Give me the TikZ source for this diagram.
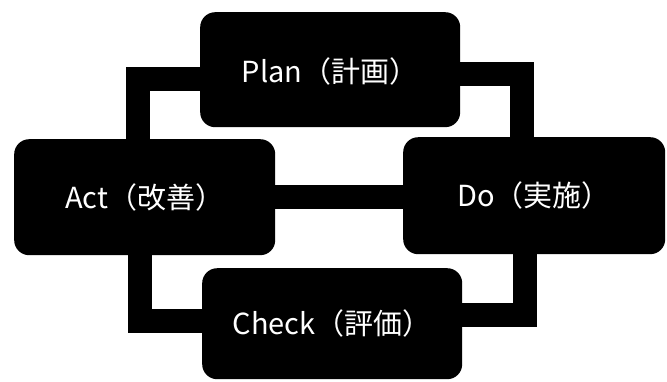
\documentclass[tikz,border=0pt]{standalone}
\usepackage{fontspec}
\setmainfont{Noto Sans CJK JP}
\usetikzlibrary{arrows.meta}
\begin{document}
\begin{tikzpicture}[x=1pt,y=-1pt,
  phase/.style={fill=black, rounded corners=15pt, inner sep=0pt,
    minimum width=260pt, minimum height=115pt, anchor=north west,
    text=white, font=\fontsize{29}{32}\selectfont},
  conn/.style={draw=black, line width=24pt, line join=miter,
    shorten <=-2pt, shorten >=-8pt, -{Triangle[length=8pt,width=20pt]}}]
\useasboundingbox (0,0) rectangle (667,381);
\node[phase, text depth=-6pt] (plan)  at (200,12)  {Plan（計画）};
\node[phase, minimum width=261pt, minimum height=116pt] (act)   at (14,139)  {Act（改善）};
\node[phase, minimum width=262pt, minimum height=117pt] (do)    at (403,137) {Do（実施）};
\node[phase, minimum height=111pt] (check) at (202,268) {Check（評価）};
\coordinate (c1) at (138,79);
\coordinate (c2) at (522,74);
\coordinate (c3) at (525,315);
\coordinate (c4) at (140,321);
\coordinate (c5) at (0,197);
\draw[conn] (act.north -| c1) |- (c1 -| plan.west);
\draw[conn] (c2 -| plan.east) -| (do.north -| c2);
\draw[conn] (do.south -| c3) |- (c3 -| check.east);
\draw[conn] (c4 -| check.west) -| (act.south -| c4);
\draw[conn] (act.east |- c5) -- (do.west |- c5);
\end{tikzpicture}
\end{document}
